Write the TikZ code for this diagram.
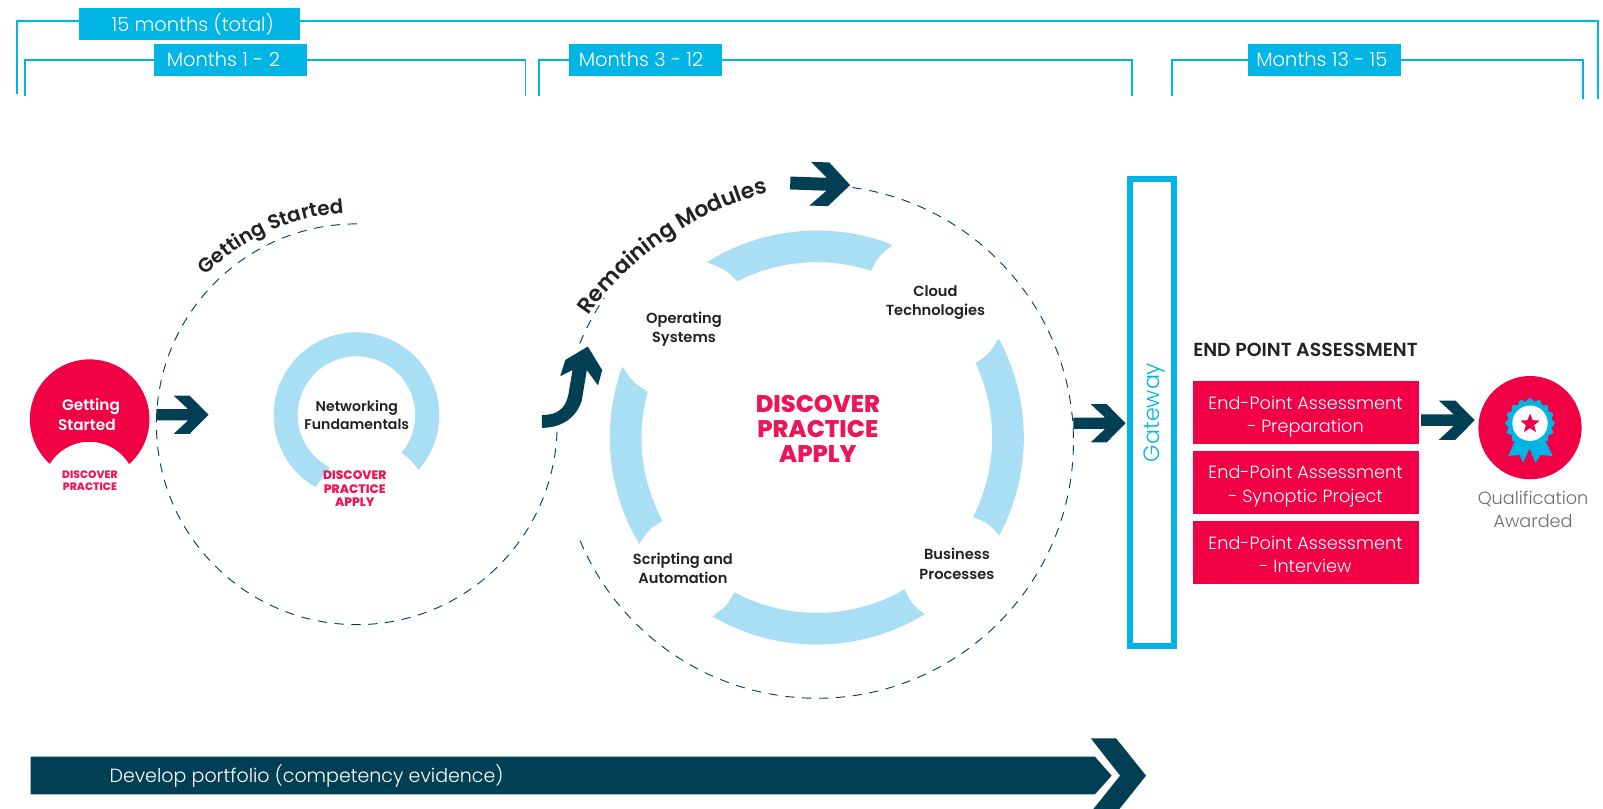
\documentclass[tikz,border=0pt]{standalone}
\usepackage{fontspec}
\setmainfont{Poppins}
\newfontfamily\lightf{Poppins Light}
\newfontfamily\semif{Poppins SemiBold}
\newfontfamily\heavyf{Poppins ExtraBold}
\usetikzlibrary{decorations.text,shapes.geometric}
\definecolor{cyanb}{HTML}{00B5E6}
\definecolor{lightb}{HTML}{A9DFF5}
\definecolor{teal}{HTML}{013F54}
\definecolor{redb}{HTML}{F20046}
\definecolor{pinkt}{HTML}{ED1556}
\definecolor{ink}{HTML}{222222}
\definecolor{greyt}{HTML}{6D6D6D}
\tikzset{
  bracket/.style={draw=cyanb,line width=1.9pt},
  tagbox/.style={fill=cyanb,text=white,inner sep=0pt,minimum height=31pt,font=\lightf\fontsize{19}{21}\selectfont},
  dashline/.style={draw=teal,line width=0.9pt,dash pattern=on 9pt off 7.5pt},
  modlabel/.style={text=ink,align=center,font=\semif\fontsize{14.3}{19}\selectfont,inner sep=0pt},
  dplabel/.style={text=pinkt,align=center,inner sep=0pt},
  epabox/.style={fill=redb,inner sep=0pt,minimum width=221pt},
  epatext/.style={text=white,inner sep=0pt,align=center,font=\lightf\fontsize{17.3}{23}\selectfont},
}
% block arrow: tail x, y, scale, rotation
\newcommand{\blockarr}[4]{%
  \fill[teal,shift={(#1,-#2)},scale=#3,rotate=#4]
    (0,5.5)--(31,5.5)--(17,18.6)--(32.6,18.6)--(51,0)--(32.6,-18.6)--(17,-18.6)--(31,-5.5)--(0,-5.5)--cycle;}
% ring segment: colour cx cy rout rin a b ai bi
\newcommand{\bandseg}[9]{%
  \pgfmathsetmacro{\ctrlA}{(#8+#6)/2-1}%
  \pgfmathsetmacro{\ctrlB}{(#9+#7)/2+1}%
  \pgfmathsetmacro{\rmid}{(#4+#5)/2}%
  \fill[#1] ([shift={(#6:#4)}]#2,-#3) arc[start angle=#6,end angle=#7,radius=#4]
    .. controls ([shift={(\ctrlB:\rmid)}]#2,-#3) .. ([shift={(#9:#5)}]#2,-#3)
    arc[start angle=#9,end angle=#8,radius=#5]
    .. controls ([shift={(\ctrlA:\rmid)}]#2,-#3) .. cycle;}
\begin{document}
\begin{tikzpicture}[x=1pt,y=1pt]
\useasboundingbox (0,0) rectangle (1568,-791.3);
% brackets
\draw[bracket] (17,-92)--(17,-21)--(1563,-21)--(1563,-97);
\draw[bracket] (24,-94)--(24,-59)--(514,-59)--(514,-94);
\draw[bracket] (527,-94)--(527,-59)--(1107,-59)--(1107,-94);
\draw[bracket] (1146,-94)--(1146,-59)--(1548,-59)--(1548,-97);
\node[tagbox,minimum width=216pt] (t0) at (185,-23.5) {\hspace*{7pt}\raisebox{1pt}{15 months (total)}};
\node[tagbox,minimum width=149pt] (t1) at (225.5,-58.5) {Months 1 - 2\hspace*{14pt}};
\node[tagbox,minimum width=149pt] (t2) at (631.5,-58.5) {Months 3 - 12\hspace*{9pt}};
\node[tagbox,minimum width=149pt] (t3) at (1295.5,-58.5) {Months 13 - 15\hspace*{5pt}};
% dashed circles
\draw[dashline] (349,-219) arc[start angle=90,end angle=358,radius=196];
\draw[dashline] ([shift={(82:251)}]799,-432) arc[start angle=82,end angle=-159,radius=251];
\draw[dashline] ([shift={(157.5:251)}]799,-432) arc[start angle=157.5,end angle=146,radius=251];
% curved titles
\path[decorate,decoration={text along path,text align=center,
  text={|\semif\fontsize{19.5}{19.5}\selectfont\color{ink}|Getting Started}}]
  ([shift={(136:207)}]349,-415) arc[start angle=136,end angle=93,radius=207];
\path[decorate,decoration={text along path,text align=center,
  text={|\semif\fontsize{21.5}{21.5}\selectfont\color{ink}|Remaining Modules}}]
  (574,-312) .. controls (603,-266) and (673,-206) .. (755,-188);
% red circle
\fill[redb] ([shift={(228.7:58.5)}]87.7,-410) arc[start angle=228.7,end angle=-48.7,radius=58.5]
  arc[start angle=31.3,end angle=148.7,radius=45.5] -- cycle;
\node[text=white,align=center,inner sep=0pt,font=\semif\fontsize{15}{19.5}\selectfont] (gs) at (87,-405.5) {\hspace*{4pt}Getting\\Started\hspace*{4pt}};
\node[dplabel,font=\heavyf\fontsize{10.5}{11.5}\selectfont] (dp1) at (88,-470.5) {DISCOVER\\PRACTICE};
% small ring
\bandseg{lightb}{348.7}{406}{81}{57.5}{240.4}{-41.4}{243}{-39.8}
\node[modlabel,font=\semif\fontsize{13.8}{18.5}\selectfont] (nf) at (349,-406) {Networking\\Fundamentals};
\node[dplabel,font=\heavyf\fontsize{12}{13.3}\selectfont] (dp2) at (347,-478) {DISCOVER\\PRACTICE\\APPLY};
% big ring
\bandseg{lightb}{799}{428}{202.5}{171.5}{122.1}{68.5}{117}{72}
\bandseg{lightb}{799}{428}{202.5}{171.5}{28.6}{-28.2}{25.1}{-26.9}
\bandseg{lightb}{799}{428}{202.5}{171.5}{-58.6}{-120.3}{-60}{-118}
\bandseg{lightb}{799}{428}{202.5}{171.5}{210.9}{160}{208.4}{164.8}
\node[modlabel] (m1) at (669,-322) {Operating\\Systems};
\node[modlabel] (m2) at (915,-296) {Cloud\\Technologies};
\node[modlabel] (m3) at (936,-551.5) {Business\\Processes};
\node[modlabel] (m4) at (668,-556) {Scripting and\\Automation};
\node[dplabel,font=\heavyf\fontsize{23.5}{24.5}\selectfont] (dp3) at (800,-419.5) {DISCOVER\\PRACTICE\\APPLY};
% block arrows
\blockarr{153}{405.7}{1}{0}
\blockarr{1050}{414}{1}{0}
\blockarr{1390}{411}{1.03}{0}
\blockarr{773}{179}{1.15}{-2}
\fill[teal] (530,-406) .. controls (545,-406) and (553,-400) .. (556,-386) -- (560,-362) -- (548,-368) -- (553,-352) -- (575,-339) -- (589,-362) -- (585,-377) -- (574,-362) -- (569,-392) .. controls (563,-410) and (548,-418.5) .. (530,-418.5) -- cycle;
% gateway
\node[draw=cyanb,line width=6pt,minimum width=43.5pt,minimum height=457pt,inner sep=0pt] (gw) at (1126.7,-403.5) {};
\node[rotate=90,text=cyanb,inner sep=0pt,font=\lightf\fontsize{21.7}{22}\selectfont] (gwt) at (1129,-403.5) {Gateway};
% end point assessment
\node[anchor=west,text=ink,inner sep=0pt,font=\semif\fontsize{18.5}{19}\selectfont] (epa) at (1167,-342) {END POINT ASSESSMENT};
\node[epabox,minimum height=61.6pt] (e1) at (1277.5,-403.5) {};
\node[epabox,minimum height=61.6pt] (e2) at (1277.5,-472) {};
\node[epabox,minimum height=61.7pt] (e3) at (1277.5,-540.5) {};
\node[epatext] (e1t) at (1277,-407.5) {End-Point Assessment\\- Preparation};
\node[epatext] (e2t) at (1277,-475.5) {End-Point Assessment\\- Synoptic Project};
\node[epatext] (e3t) at (1277,-542.5) {End-Point Assessment\\- Interview};
% award
\fill[redb] (1496.6,-418.3) circle[radius=50.5];
\fill[cyanb] (1483.6,-427.2)--(1475.4,-446)--(1486.2,-445)--(1490,-452.6)--(1496,-438.6)--(1502,-452.6)--(1507,-445)--(1518.8,-446)--(1509.7,-427.2)--cycle;
\fill[cyanb] plot[smooth cycle,samples=97,domain=0:356.25,variable=\t] ({1496.6+(23+1.6*cos(16*\t))*cos(\t)},{-414+(23+1.6*cos(16*\t))*sin(\t)});
\fill[white] (1496.6,-414) circle[radius=17.3];
\node[star,star points=5,star point ratio=2.3,fill=redb,minimum size=20pt,inner sep=0pt] (st) at (1496.6,-414.5) {};
\node[text=greyt,align=center,inner sep=0pt,font=\lightf\fontsize{17.3}{22.5}\selectfont] (qa) at (1499.6,-498) {Qualification\\Awarded};
% portfolio bar
\fill[teal] (30,-740.2)--(1071,-740.2)--(1087.4,-758.7)--(1071,-777)--(30,-777)--cycle;
\fill[teal] (1067,-722.2)--(1091.7,-722.2)--(1121,-758.7)--(1095,-791.3)--(1069.5,-791.3)--(1095.6,-758.7)--cycle;
\node[anchor=west,text=white,inner sep=0pt,font=\lightf\fontsize{18.6}{20}\selectfont] (pf) at (107,-759) {Develop portfolio (competency evidence)};
\end{tikzpicture}
\end{document}
